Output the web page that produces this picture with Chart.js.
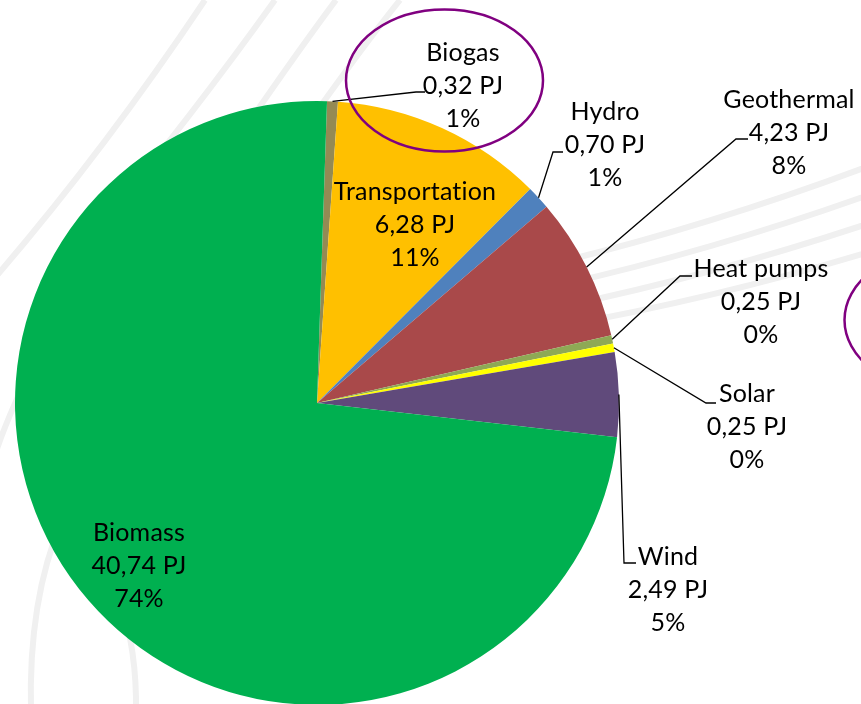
<!DOCTYPE html>
<html>
<head>
<meta charset="utf-8">
<script src="https://cdn.jsdelivr.net/npm/chart.js@4.4.1/dist/chart.umd.min.js"></script>
<style>
  html, body { margin: 0; padding: 0; background: #ffffff; overflow: hidden; }
  #wrap { position: relative; width: 861px; height: 720px; }
  canvas { display: block; }
</style>
</head>
<body>
<div id="wrap"><canvas id="c" width="861" height="720"></canvas></div>
<script>
// ---- data ----
const categories = ['Biogas', 'Transportation', 'Hydro', 'Geothermal', 'Heat pumps', 'Solar', 'Wind', 'Biomass'];
const valuesPJ   = [0.32, 6.28, 0.70, 4.23, 0.25, 0.25, 2.49, 40.74];
const unitLabel  = 'PJ';

// ---- styles ----
const sliceColors = ['#948A54', '#FFC000', '#4F81BD', '#A9494A', '#8EA955', '#FFFF00', '#604A7B', '#00B050'];

// label layout: centre of the middle text line, optional leader (elbow, end)
const labelLayout = {
  'Biogas':         { x: 463, y: 85,  leader: [[416, 92], [425, 92]] },
  'Transportation': { x: 415, y: 224, leader: null },
  'Hydro':          { x: 605, y: 144, leader: [[553, 152], [563, 152]] },
  'Geothermal':     { x: 789, y: 132, leader: [[736, 139], [748, 139]] },
  'Heat pumps':     { x: 761, y: 301, leader: [[680, 276], [692, 276]] },
  'Solar':          { x: 747, y: 426, leader: [[706, 403], [716, 403]] },
  'Wind':           { x: 668, y: 589, leader: [[624, 563], [636, 563]] },
  'Biomass':        { x: 139, y: 565, leader: null }
};
const lineGap = 33;
const fontFamily = 'Lato, "Open Sans", sans-serif';
const fontSize = 25;

// decorative background swooshes (quadratic curves: start, control, end)
const decorCurves = [
  [[-20, 295], [98, 160], [205, 0]],
  [[90, 240], [195, 112], [275, 0]],
  [[230, 150], [290, 62], [336, 0]],
  [[300, 135], [360, 50], [400, 0]],
  [[560, 262], [723, 222], [885, 160]],
  [[560, 285], [723, 248], [885, 189]],
  [[560, 307], [723, 273], [885, 218]],
  [[560, 326], [723, 297], [885, 247]],
  [[-10, 470], [5, 420], [40, 350]],
  [[62, 520], [28, 600], [31, 712]],
  [[120, 600], [137, 650], [136, 712]]
];
const annotationEllipses = [
  { cx: 444.5, cy: 80.5, rx: 98.5, ry: 71 },
  { cx: 943,   cy: 320,  rx: 98.5, ry: 71 }
];

const total = valuesPJ.reduce((a, b) => a + b, 0);
function fmtVal(v) { return v.toFixed(2).replace('.', ',') + ' ' + unitLabel; }
function fmtPct(v) { return Math.round(v / total * 100) + '%'; }

const decorPlugin = {
  id: 'decor',
  beforeDatasetsDraw(chart) {
    const ctx = chart.ctx;
    ctx.save();
    ctx.strokeStyle = '#F0F0F0';
    ctx.lineWidth = 6;
    decorCurves.forEach(c => {
      ctx.beginPath();
      ctx.moveTo(c[0][0], c[0][1]);
      ctx.quadraticCurveTo(c[1][0], c[1][1], c[2][0], c[2][1]);
      ctx.stroke();
    });
    ctx.restore();
  },
  afterDatasetsDraw(chart) {
    const ctx = chart.ctx;
    const meta = chart.getDatasetMeta(0);
    ctx.save();
    // leader lines
    ctx.strokeStyle = '#000000';
    ctx.lineWidth = 1.3;
    meta.data.forEach((arc, i) => {
      const lay = labelLayout[categories[i]];
      if (!lay || !lay.leader) return;
      const p = arc.getProps(['x', 'y', 'startAngle', 'endAngle', 'outerRadius'], true);
      const mid = (p.startAngle + p.endAngle) / 2;
      const sx = p.x + Math.cos(mid) * p.outerRadius;
      const sy = p.y + Math.sin(mid) * p.outerRadius;
      ctx.beginPath();
      ctx.moveTo(sx, sy);
      ctx.lineTo(lay.leader[0][0], lay.leader[0][1]);
      ctx.lineTo(lay.leader[1][0], lay.leader[1][1]);
      ctx.stroke();
    });
    // labels
    ctx.font = fontSize + 'px ' + fontFamily;
    if ('letterSpacing' in ctx) ctx.letterSpacing = '0.2px';
    ctx.fillStyle = '#000000';
    ctx.textAlign = 'center';
    ctx.textBaseline = 'alphabetic';
    const cap = ctx.measureText('H').actualBoundingBoxAscent || fontSize * 0.7;
    categories.forEach((name, i) => {
      const lay = labelLayout[name];
      const lines = [name, fmtVal(valuesPJ[i]), fmtPct(valuesPJ[i])];
      lines.forEach((t, k) => {
        const cy = lay.y + (k - 1) * lineGap;
        ctx.fillText(t, lay.x, cy + cap / 2);
      });
    });
    // annotation ellipses
    ctx.letterSpacing = '0px';
    ctx.strokeStyle = '#800080';
    ctx.lineWidth = 2.5;
    annotationEllipses.forEach(e => {
      ctx.beginPath();
      ctx.ellipse(e.cx, e.cy, e.rx, e.ry, 0, 0, Math.PI * 2);
      ctx.stroke();
    });
    ctx.restore();
  }
};

new Chart(document.getElementById('c'), {
  type: 'pie',
  data: {
    labels: categories,
    datasets: [{
      data: valuesPJ,
      backgroundColor: sliceColors,
      borderWidth: 0,
      hoverBorderWidth: 0,
      offset: 0,
      hoverOffset: 0
    }]
  },
  options: {
    responsive: false,
    animation: false,
    rotation: 1.9,
    layout: { padding: { left: 15, top: 101, right: 242, bottom: 15 } },
    plugins: { legend: { display: false }, tooltip: { enabled: false } },
    events: []
  },
  plugins: [decorPlugin]
});
</script>
</body>
</html>
